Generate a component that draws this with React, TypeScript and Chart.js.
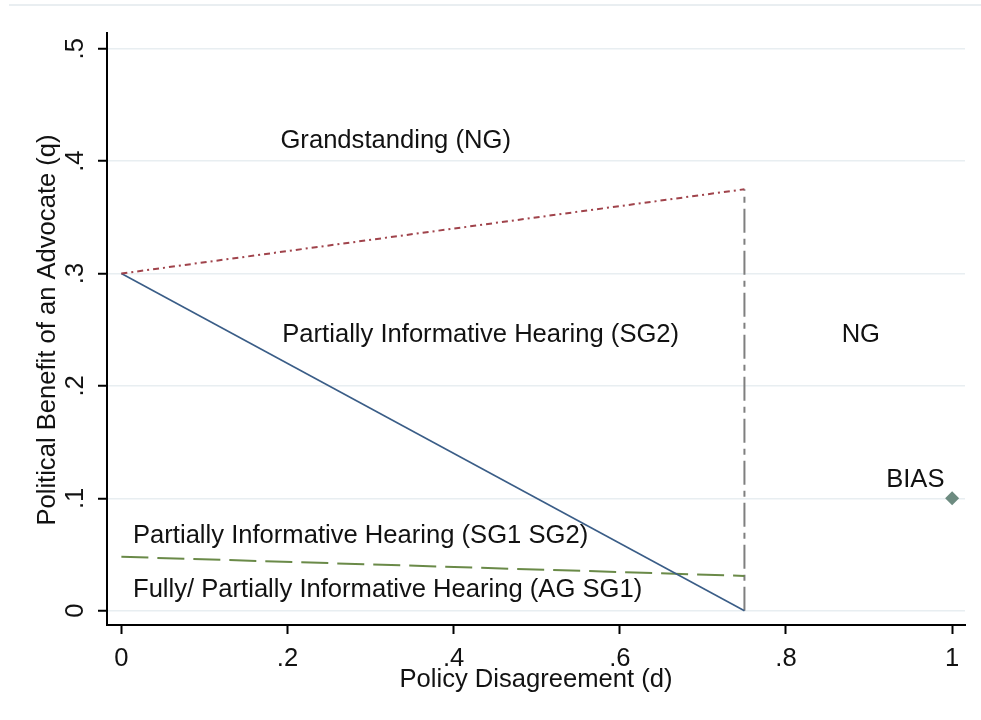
import React, { useEffect, useRef } from "react";
import { Chart, registerables } from "chart.js";

Chart.register(...registerables);

// ---- data ----
const xTicks = [0, 0.2, 0.4, 0.6, 0.8, 1];
const yTicks = [0, 0.1, 0.2, 0.3, 0.4, 0.5];
const xTickLabels = ["0", ".2", ".4", ".6", ".8", "1"];
const yTickLabels = ["0", ".1", ".2", ".3", ".4", ".5"];

const upperBoundX = [0, 0.75];
const upperBoundY = [0.3, 0.375];
const diagX = [0, 0.75];
const diagY = [0.3, 0];
const lowerX = [0, 0.75];
const lowerY = [0.048, 0.031];
const cutoffX = [0.75, 0.75];
const cutoffY = [0, 0.375];
const biasX = [1];
const biasY = [0.1];

const noteTexts = [
  "Grandstanding (NG)",
  "Partially Informative Hearing (SG2)",
  "NG",
  "BIAS",
  "Partially Informative Hearing (SG1 SG2)",
  "Fully/ Partially Informative Hearing (AG SG1)",
];
const noteX = [0.1915, 0.1937, 0.867, 0.9206, 0.014, 0.014];
const noteY = [0.4117, 0.2395, 0.2395, 0.1104, 0.06, 0.0125];

const xTitle = "Policy Disagreement (d)";
const yTitle = "Political Benefit of an Advocate (q)";

const pts = (xs: number[], ys: number[]) => xs.map((x, i) => ({ x, y: ys[i] }));

const FONT = '25.6px "Liberation Sans", Arial, sans-serif';
const TEXT = "#121212";

const textPlugin = {
  id: "stataText",
  beforeDraw(chart: any) {
    const ctx = chart.ctx;
    ctx.save();
    ctx.strokeStyle = "#e9eef1";
    ctx.lineWidth = 2;
    ctx.beginPath();
    ctx.moveTo(9, 5);
    ctx.lineTo(981, 5);
    ctx.stroke();
    ctx.restore();
  },
  afterDraw(chart: any) {
    const ctx = chart.ctx;
    const xs = chart.scales.x;
    const ys = chart.scales.y;
    ctx.save();
    ctx.font = FONT;
    ctx.fillStyle = TEXT;
    // x tick labels
    ctx.textAlign = "center";
    ctx.textBaseline = "alphabetic";
    xTicks.forEach((v, i) => {
      ctx.fillText(xTickLabels[i], xs.getPixelForValue(v), 666);
    });
    // x title
    ctx.fillText(xTitle, (chart.chartArea.left + chart.chartArea.right) / 2, 687);
    // y tick labels (rotated)
    yTicks.forEach((v, i) => {
      ctx.save();
      ctx.translate(83, ys.getPixelForValue(v));
      ctx.rotate(-Math.PI / 2);
      ctx.textAlign = "center";
      ctx.fillText(yTickLabels[i], 0, 0);
      ctx.restore();
    });
    // y title
    ctx.save();
    ctx.translate(55, (chart.chartArea.top + chart.chartArea.bottom) / 2 + 1);
    ctx.rotate(-Math.PI / 2);
    ctx.textAlign = "center";
    ctx.fillText(yTitle, 0, 0);
    ctx.restore();
    // notes
    ctx.textAlign = "left";
    noteTexts.forEach((t, i) => {
      ctx.fillText(t, xs.getPixelForValue(noteX[i]), ys.getPixelForValue(noteY[i]));
    });
    ctx.restore();
  },
};

export default function App() {
  const ref = useRef<HTMLCanvasElement>(null);
  useEffect(() => {
    document.body.style.margin = "0";
    const canvas = ref.current!;
    const chart = new Chart(canvas, {
      type: "scatter",
      data: {
        datasets: [
          {
            data: pts(upperBoundX, upperBoundY),
            showLine: true,
            borderColor: "#a0434b",
            borderWidth: 2,
            borderDash: [6, 4, 2, 4],
            pointRadius: 0,
          },
          {
            data: pts(diagX, diagY),
            showLine: true,
            borderColor: "#3a5d87",
            borderWidth: 1.6,
            pointRadius: 0,
          },
          {
            data: pts(lowerX, lowerY),
            showLine: true,
            borderColor: "#6a8a48",
            borderWidth: 2,
            borderDash: [27, 9],
            pointRadius: 0,
          },
          {
            data: pts(cutoffX, cutoffY),
            showLine: true,
            borderColor: "#7f7f7f",
            borderWidth: 2,
            borderDash: [24, 6, 6, 6],
            pointRadius: 0,
          },
          {
            data: pts(biasX, biasY),
            showLine: false,
            pointStyle: "rectRot",
            pointRadius: 7,
            backgroundColor: "#6d8b80",
            borderColor: "#6d8b80",
            borderWidth: 0,
          },
        ],
      },
      options: {
        animation: false,
        responsive: false,
        devicePixelRatio: 1,
        layout: { padding: { left: 0, top: 33, right: 16, bottom: 0 } },
        plugins: { legend: { display: false }, tooltip: { enabled: false } },
        scales: {
          x: {
            type: "linear",
            min: -0.0173,
            max: 1.0155,
            afterBuildTicks: (s: any) => {
              s.ticks = xTicks.map((v) => ({ value: v }));
            },
            afterFit: (s: any) => {
              s.height = 95;
            },
            ticks: { display: false },
            grid: {
              drawOnChartArea: false,
              drawTicks: true,
              tickLength: 9,
              tickColor: "#000",
              tickWidth: 2,
            },
            border: { display: true, color: "#000", width: 2 },
          },
          y: {
            type: "linear",
            min: -0.0127,
            max: 0.514,
            afterBuildTicks: (s: any) => {
              s.ticks = yTicks.map((v) => ({ value: v }));
            },
            afterFit: (s: any) => {
              s.width = 107;
            },
            ticks: { display: false },
            grid: {
              drawOnChartArea: true,
              color: "#e8eef1",
              lineWidth: 1.5,
              drawTicks: true,
              tickLength: 9,
              tickColor: "#000",
              tickWidth: 2,
            },
            border: { display: true, color: "#000", width: 2 },
          },
        },
      },
      plugins: [textPlugin],
    } as any);
    return () => chart.destroy();
  }, []);
  return <canvas ref={ref} width={981} height={720} style={{ display: "block" }} />;
}
